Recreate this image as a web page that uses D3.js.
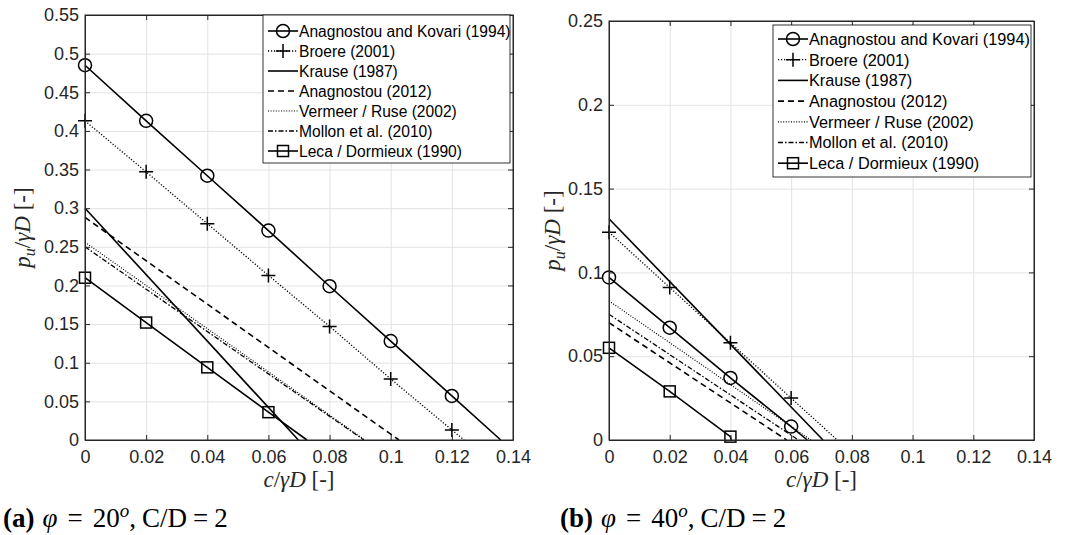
<!DOCTYPE html>
<html>
<head>
<meta charset="utf-8">
<script src="https://cdn.jsdelivr.net/npm/d3@7/dist/d3.min.js"></script>
<style>
  body { margin: 0; background: #fff; }
  svg { display: block; }
  .tick text { font-family: "Liberation Sans", Arial, sans-serif; fill: #262626; }
</style>
</head>
<body>
<div id="chart"></div>
<script>
// c/gammaD positions where markers sit
var cMarks = [0, 0.02, 0.04, 0.06, 0.08, 0.1, 0.12];
var xTicks = [0, 0.02, 0.04, 0.06, 0.08, 0.1, 0.12, 0.14];
var yTicks20 = [0, 0.05, 0.1, 0.15, 0.2, 0.25, 0.3, 0.35, 0.4, 0.45, 0.5, 0.55];
var yTicks40 = [0, 0.05, 0.1, 0.15, 0.2, 0.25];

var names = ["Anagnostou and Kovari (1994)", "Broere (2001)", "Krause (1987)",
  "Anagnostou (2012)", "Vermeer / Ruse (2002)", "Mollon et al. (2010)", "Leca / Dormieux (1990)"];

// phi = 20
var ak20 = [0.485, 0.413, 0.342, 0.271, 0.199, 0.128, 0.057];
var broere20 = [0.413, 0.347, 0.280, 0.213, 0.147, 0.079, 0.013];
var krause20 = [0.300];
var anag20 = [0.288];
var vermeer20 = [0.256];
var mollon20 = [0.250];
var leca20 = [0.210, 0.152, 0.094, 0.036];
// where each curve reaches p = 0
var zero20 = [0.136, 0.124, 0.0698, 0.1027, 0.0915, 0.0912, 0.0726];

// phi = 40
var ak40 = [0.097, 0.067, 0.037, 0.008];
var broere40 = [0.124, 0.091, 0.058, 0.025];
var krause40 = [0.132];
var anag40 = [0.070];
var vermeer40 = [0.083];
var mollon40 = [0.075];
var leca40 = [0.055, 0.029, 0.002];
var zero40 = [0.0653, 0.0752, 0.0705, 0.0585, 0.0665, 0.0624, 0.0402];

var styles = [
  { dash: null, marker: "circle", w: 1.6 },
  { dash: "1.2,1.8", marker: "plus", w: 1.3 },
  { dash: null, marker: null, w: 1.6 },
  { dash: "6,4", marker: null, w: 1.6 },
  { dash: "1,1.6", marker: null, w: 1.2 },
  { dash: "5,2,1.5,2", marker: null, w: 1.3 },
  { dash: null, marker: "square", w: 1.6 }
];

function buildSeries(lists, zeros) {
  return lists.map(function (ys, i) {
    var pts = ys.map(function (y, j) { return [cMarks[j], y]; });
    var marks = styles[i].marker ? pts.slice() : [];
    pts.push([zeros[i], 0]);
    return { name: names[i], pts: pts, marks: marks, style: styles[i] };
  });
}

var svg = d3.select("#chart").append("svg")
  .attr("width", 1067).attr("height", 535);

function drawMarker(g, type, cx, cy) {
  if (type === "circle") {
    g.append("circle").attr("cx", cx).attr("cy", cy).attr("r", 6.5)
      .attr("fill", "none").attr("stroke", "#000").attr("stroke-width", 1.5);
  } else if (type === "square") {
    g.append("rect").attr("x", cx - 5.5).attr("y", cy - 5.5)
      .attr("width", 11).attr("height", 11)
      .attr("fill", "none").attr("stroke", "#000").attr("stroke-width", 1.5);
  } else if (type === "plus") {
    g.append("path").attr("d", "M" + (cx - 7) + "," + cy + "H" + (cx + 7) + "M" + cx + "," + (cy - 7) + "V" + (cy + 7))
      .attr("stroke", "#000").attr("stroke-width", 1.5);
  }
}

function drawPanel(p) {
  var g = svg.append("g").attr("transform", "translate(" + p.left + "," + p.top + ")");
  var w = p.width, h = p.height;

  var x = d3.scaleLinear().domain([0, 0.14]).range([0, w]);
  var y = d3.scaleLinear().domain([0, p.ymax]).range([h, 0]);
  var fmt = function (d) { return String(+d.toFixed(2)); };

  // grid
  g.append("g").attr("transform", "translate(0," + h + ")")
    .call(d3.axisBottom(x).tickValues(xTicks).tickSize(-h).tickFormat(""))
    .call(function (s) { s.select(".domain").remove(); s.selectAll("line").attr("stroke", "#e3e3e3"); });
  g.append("g")
    .call(d3.axisLeft(y).tickValues(p.yTicks).tickSize(-w).tickFormat(""))
    .call(function (s) { s.select(".domain").remove(); s.selectAll("line").attr("stroke", "#e3e3e3"); });

  // series
  var line = d3.line().x(function (d) { return x(d[0]); }).y(function (d) { return y(d[1]); });
  p.series.forEach(function (s) {
    g.append("path").datum(s.pts).attr("d", line)
      .attr("fill", "none").attr("stroke", "#000")
      .attr("stroke-width", s.style.w)
      .attr("stroke-dasharray", s.style.dash);
    s.marks.forEach(function (d) { drawMarker(g, s.style.marker, x(d[0]), y(d[1])); });
  });

  // axes with inward ticks on all sides
  var ax = g.append("g").attr("transform", "translate(0," + h + ")")
    .call(d3.axisBottom(x).tickValues(xTicks).tickSizeInner(-5).tickSizeOuter(0).tickPadding(10).tickFormat(fmt));
  ax.selectAll("text").style("font-size", "18px").attr("dy", "0.71em");
  var ay = g.append("g")
    .call(d3.axisLeft(y).tickValues(p.yTicks).tickSizeInner(-5).tickSizeOuter(0).tickPadding(6).tickFormat(fmt));
  ay.selectAll("text").style("font-size", "18px");
  g.append("g").call(d3.axisTop(x).tickValues(xTicks).tickSizeInner(-5).tickSizeOuter(0).tickFormat(""));
  g.append("g").attr("transform", "translate(" + w + ",0)")
    .call(d3.axisRight(y).tickValues(p.yTicks).tickSizeInner(-5).tickSizeOuter(0).tickFormat(""));
  g.selectAll(".domain").attr("stroke", "#262626");
  g.selectAll(".tick line").filter(function () { return d3.select(this).attr("stroke") !== "#e3e3e3"; })
    .attr("stroke", "#262626");
  g.append("rect").attr("width", w).attr("height", h)
    .attr("fill", "none").attr("stroke", "#262626").attr("stroke-width", 1);

  // legend
  var L = p.legend;
  var lg = svg.append("g").attr("transform", "translate(" + L.x + "," + L.y + ")");
  lg.append("rect").attr("width", L.w).attr("height", L.h)
    .attr("fill", "#fff").attr("stroke", "#000").attr("stroke-width", 0.8);
  p.series.forEach(function (s, i) {
    var cy = L.row0 + i * L.rowH;
    lg.append("line").attr("x1", 5).attr("x2", 35).attr("y1", cy).attr("y2", cy)
      .attr("stroke", "#000").attr("stroke-width", s.style.w)
      .attr("stroke-dasharray", s.style.dash);
    if (s.style.marker) drawMarker(lg, s.style.marker, 20, cy);
    lg.append("text").attr("x", 36).attr("y", cy).attr("dy", "0.36em")
      .style("font-family", "Liberation Sans, Arial, sans-serif")
      .style("font-size", L.fs + "px").attr("fill", "#000")
      .text(s.name);
  });

  // axis labels
  var xl = svg.append("text")
    .attr("x", p.left + w / 2).attr("y", 487)
    .attr("text-anchor", "middle")
    .style("font-family", "Liberation Serif, serif").style("font-size", "23px").attr("fill", "#262626");
  xl.append("tspan").style("font-style", "italic").text("c");
  xl.append("tspan").text("/");
  xl.append("tspan").style("font-style", "italic").text("γD");
  xl.append("tspan").text(" [-]");

  var yl = svg.append("text")
    .attr("transform", "translate(" + p.ylabX + "," + (p.top + h / 2) + ") rotate(-90)")
    .attr("text-anchor", "middle").attr("dy", "0.3em")
    .style("font-family", "Liberation Serif, serif").style("font-size", "23px").attr("fill", "#262626");
  yl.append("tspan").style("font-style", "italic").text("p");
  yl.append("tspan").style("font-style", "italic").style("font-size", "16px").attr("dy", "5").text("u");
  yl.append("tspan").attr("dy", "-5").text("/");
  yl.append("tspan").style("font-style", "italic").text("γD");
  yl.append("tspan").text(" [-]");

  // caption
  var cap = svg.append("text").attr("x", p.capX).attr("y", 527)
    .style("font-family", "Liberation Serif, serif").style("font-size", "27px").attr("fill", "#000");
  cap.append("tspan").style("font-weight", "bold").text(p.capTag);
  cap.append("tspan").attr("dx", 8).style("font-style", "italic").text("φ");
  cap.append("tspan").attr("dx", 10).text("=");
  cap.append("tspan").attr("dx", 10).text(p.capPhi);
  cap.append("tspan").style("font-style", "italic").style("font-size", "19px").attr("dy", "-10").text("o");
  cap.append("tspan").attr("dy", "10").text(",");
  cap.append("tspan").attr("dx", 6).text("C/D");
  cap.append("tspan").attr("dx", 6).text("=");
  cap.append("tspan").attr("dx", 6).text("2");
}

drawPanel({
  left: 85, top: 15, width: 428, height: 425, ymax: 0.55, yTicks: yTicks20,
  series: buildSeries([ak20, broere20, krause20, anag20, vermeer20, mollon20, leca20], zero20),
  legend: { x: 263, y: 15, w: 247, h: 148, row0: 16, rowH: 20, fs: 15.6 },
  ylabX: 23, capX: 3, capTag: "(a)", capPhi: "20"
});

drawPanel({
  left: 609, top: 21, width: 425, height: 419, ymax: 0.25, yTicks: yTicks40,
  series: buildSeries([ak40, broere40, krause40, anag40, vermeer40, mollon40, leca40], zero40),
  legend: { x: 773, y: 25, w: 258, h: 152, row0: 14, rowH: 20.7, fs: 16.3 },
  ylabX: 553, capX: 560, capTag: "(b)", capPhi: "40"
});
</script>
</body>
</html>
